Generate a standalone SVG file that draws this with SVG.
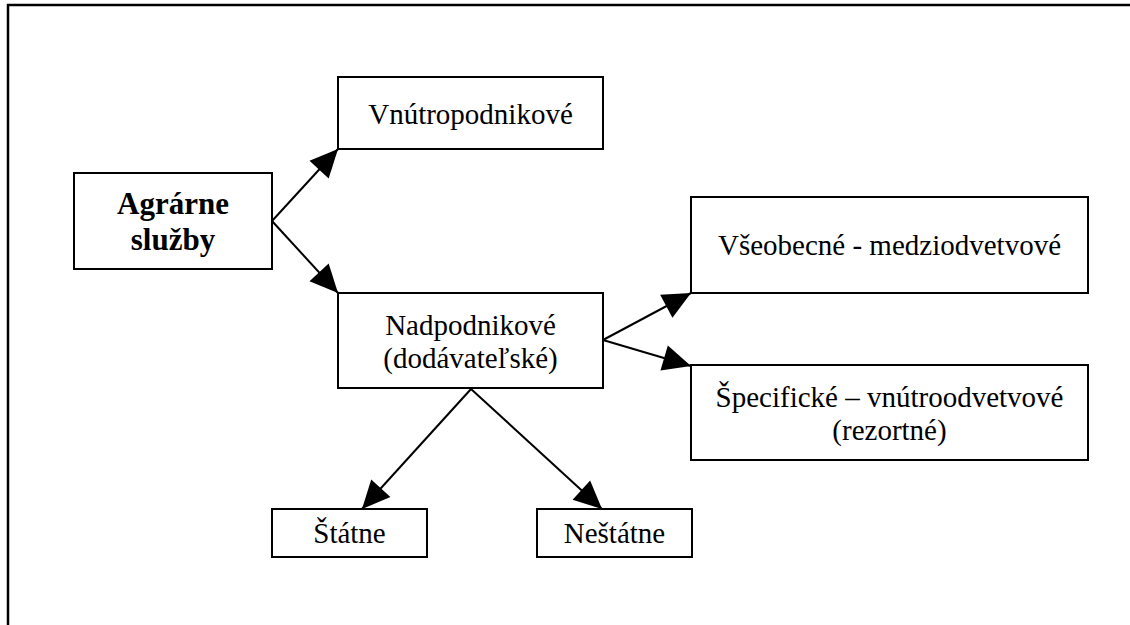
<svg xmlns="http://www.w3.org/2000/svg" width="1130" height="625" viewBox="0 0 1130 625">
<style>
.box{fill:#fff;stroke:#000;stroke-width:2}
.t{font-family:"Liberation Serif","Times New Roman",serif;font-size:29px;fill:#000;text-anchor:middle}
.b{font-weight:bold;font-size:31px}
.c{stroke:#000;stroke-width:2;fill:none;marker-end:url(#ah)}
.frame{stroke:#000;stroke-width:2.5;fill:none}
</style>
<defs>
<marker id="ah" markerUnits="userSpaceOnUse" markerWidth="28" markerHeight="26" refX="28" refY="13" orient="auto" overflow="visible">
<path d="M0,0 L28,13 L0,26 z" fill="#000"/>
</marker>
</defs>
<rect width="1130" height="625" fill="#fff"/>
<g id="frame">
<path class="frame" d="M8,625 L8,5 L1130,5"/>
</g>
<g id="connectors">
<path class="c" d="M272,221 L338,149"/>
<path class="c" d="M272,221 L338,293"/>
<path class="c" d="M603,340 L691,293"/>
<path class="c" d="M603,340 L691,366"/>
<path class="c" d="M471,389 L362,509"/>
<path class="c" d="M471,389 L602,509"/>
</g>
<g id="agrarne">
<rect class="box" x="74" y="173" width="198" height="96"/>
<text class="t b" x="173" y="214">Agrárne</text>
<text class="t b" x="173" y="250">služby</text>
</g>
<g id="vnutropodnikove">
<rect class="box" x="338" y="77" width="265" height="72"/>
<text class="t" x="470.5" y="124">Vnútropodnikové</text>
</g>
<g id="nadpodnikove">
<rect class="box" x="338" y="293" width="265" height="95"/>
<text class="t" x="470.5" y="335">Nadpodnikové</text>
<text class="t" x="470.5" y="368">(dodávateľské)</text>
</g>
<g id="vseobecne">
<rect class="box" x="691" y="197" width="397" height="96"/>
<text class="t" x="889.5" y="255">Všeobecné - medziodvetvové</text>
</g>
<g id="specificke">
<rect class="box" x="691" y="365" width="397" height="95"/>
<text class="t" x="889.5" y="407">Špecifické – vnútroodvetvové</text>
<text class="t" x="889.5" y="440">(rezortné)</text>
</g>
<g id="statne">
<rect class="box" x="272" y="509" width="155" height="48"/>
<text class="t" x="349.5" y="543">Štátne</text>
</g>
<g id="nestatne">
<rect class="box" x="537" y="509" width="155" height="48"/>
<text class="t" x="614.5" y="543">Neštátne</text>
</g>
</svg>
